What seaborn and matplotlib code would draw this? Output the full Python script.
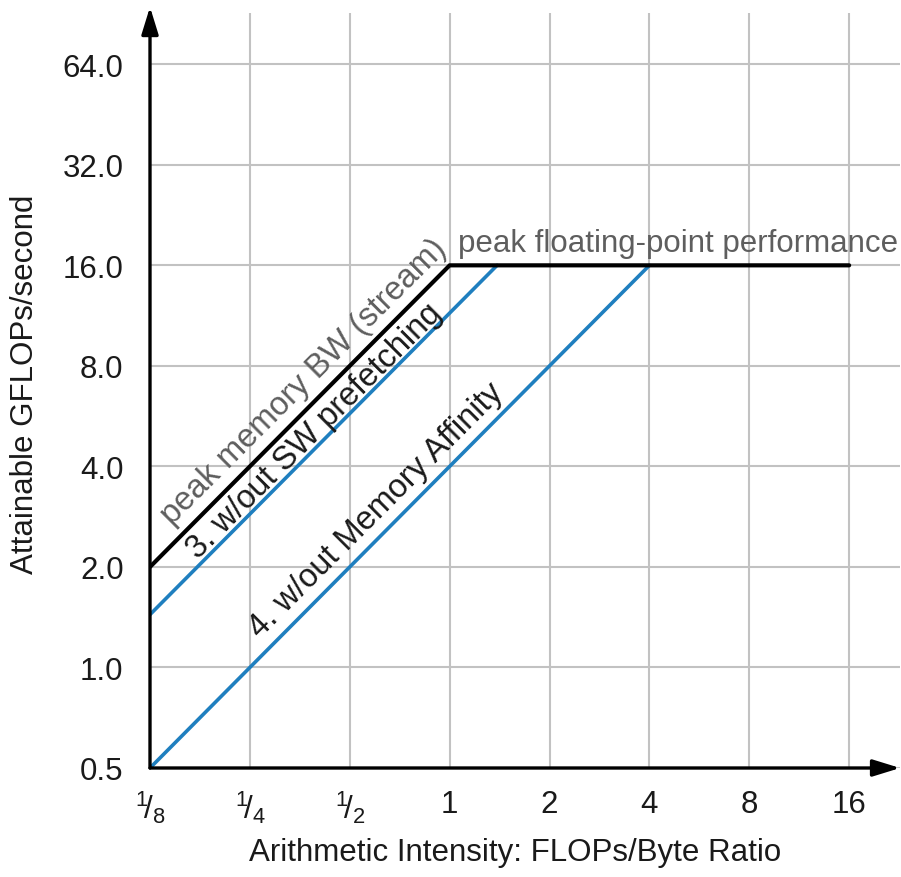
import matplotlib
matplotlib.use("Agg")
import matplotlib.pyplot as plt
import seaborn as sns
import pandas as pd

# ---- data ----
x_ticks = [1/8, 1/4, 1/2, 1, 2, 4, 8, 16]
x_labels = [r"$^1\!/_8$", r"$^1\!/_4$", r"$^1\!/_2$", "1", "2", "4", "8", "16"]
y_ticks = [0.5, 1, 2, 4, 8, 16, 32, 64]
y_labels = ["0.5", "1.0", "2.0", "4.0", "8.0", "16.0", "32.0", "64.0"]

roof_x = [0.125, 1, 16]
roof_y = [2, 16, 16]
swpf_x = [0.125, 1.39]
swpf_y = [1.44, 16]
aff_x = [0.125, 4]
aff_y = [0.5, 16]

sns.set_theme(style="white")
plt.rcParams["font.family"] = ["Liberation Sans", "DejaVu Sans"]
plt.rcParams["mathtext.default"] = "regular"

FS = 22.5
FSD = 23.5
TXT = "#1a1a1a"
GRAY = "#5e5e5e"
BLUE = "#1f7fbf"

fig = plt.figure(figsize=(9.01, 8.78), dpi=100)
ax = fig.add_axes([150/901, 1 - 769/878, 751/901 - 0.001, 755/878])

df_roof = pd.DataFrame({"x": roof_x, "y": roof_y})
df_sw = pd.DataFrame({"x": swpf_x, "y": swpf_y})
df_aff = pd.DataFrame({"x": aff_x, "y": aff_y})

sns.lineplot(data=df_sw, x="x", y="y", ax=ax, color=BLUE, lw=2.6, sort=False, estimator=None, zorder=3)
sns.lineplot(data=df_aff, x="x", y="y", ax=ax, color=BLUE, lw=2.6, sort=False, estimator=None, zorder=3)
sns.lineplot(data=df_roof, x="x", y="y", ax=ax, color="black", lw=3.0, sort=False, estimator=None, zorder=4)

ax.set_xscale("log", base=2)
ax.set_yscale("log", base=2)
ax.set_xlim(0.125, 0.125 * 2 ** 7.51)
ax.set_ylim(0.5, 0.5 * 2 ** 7.51)
ax.set_xticks(x_ticks)
ax.set_xticklabels(x_labels)
ax.set_yticks(y_ticks)
ax.set_yticklabels(y_labels)
ax.minorticks_off()
ax.tick_params(axis="both", length=0, labelsize=FS, colors=TXT)
ax.tick_params(axis="x", pad=15)
ax.tick_params(axis="y", pad=19)

ax.grid(True, color="#c2c2c2", lw=1.5)
ax.set_axisbelow(True)
for s in ax.spines.values():
    s.set_visible(False)

# axis arrows
arrow_style = "-|>,head_length=0.55,head_width=0.17"
ax.annotate("", xy=(0, 1.008), xytext=(0, 0), xycoords="axes fraction",
            arrowprops=dict(arrowstyle=arrow_style, lw=2.4,
                            color="black", mutation_scale=30, shrinkA=0, shrinkB=0))
ax.annotate("", xy=(1.0, 0), xytext=(0, 0), xycoords="axes fraction",
            arrowprops=dict(arrowstyle=arrow_style, lw=2.4,
                            color="black", mutation_scale=30, shrinkA=0, shrinkB=0))

ax.set_xlabel("Arithmetic Intensity: FLOPs/Byte Ratio", fontsize=FS, color=TXT)
ax.set_ylabel("Attainable GFLOPs/second", fontsize=FS, color=TXT)
ax.xaxis.set_label_coords(0.487, -0.091)
ax.yaxis.set_label_coords(-0.146, 0.509)

# annotations
ax.text(0.3635, 7.21, "peak memory BW (stream)", rotation=45, rotation_mode="anchor",
        ha="center", va="center", fontsize=FSD, color=GRAY)
ax.text(0.392, 5.11, "3. w/out SW prefetching", rotation=45, rotation_mode="anchor",
        ha="center", va="center", fontsize=FSD, color=TXT)
ax.text(0.603, 2.96, "4. w/out Memory Affinity", rotation=45, rotation_mode="anchor",
        ha="center", va="center", fontsize=FSD, color=TXT)
ax.text(1.057, 17.68, "peak floating-point performance", ha="left", va="baseline",
        fontsize=FS, color=GRAY)

fig.savefig("out.png", dpi=100)
